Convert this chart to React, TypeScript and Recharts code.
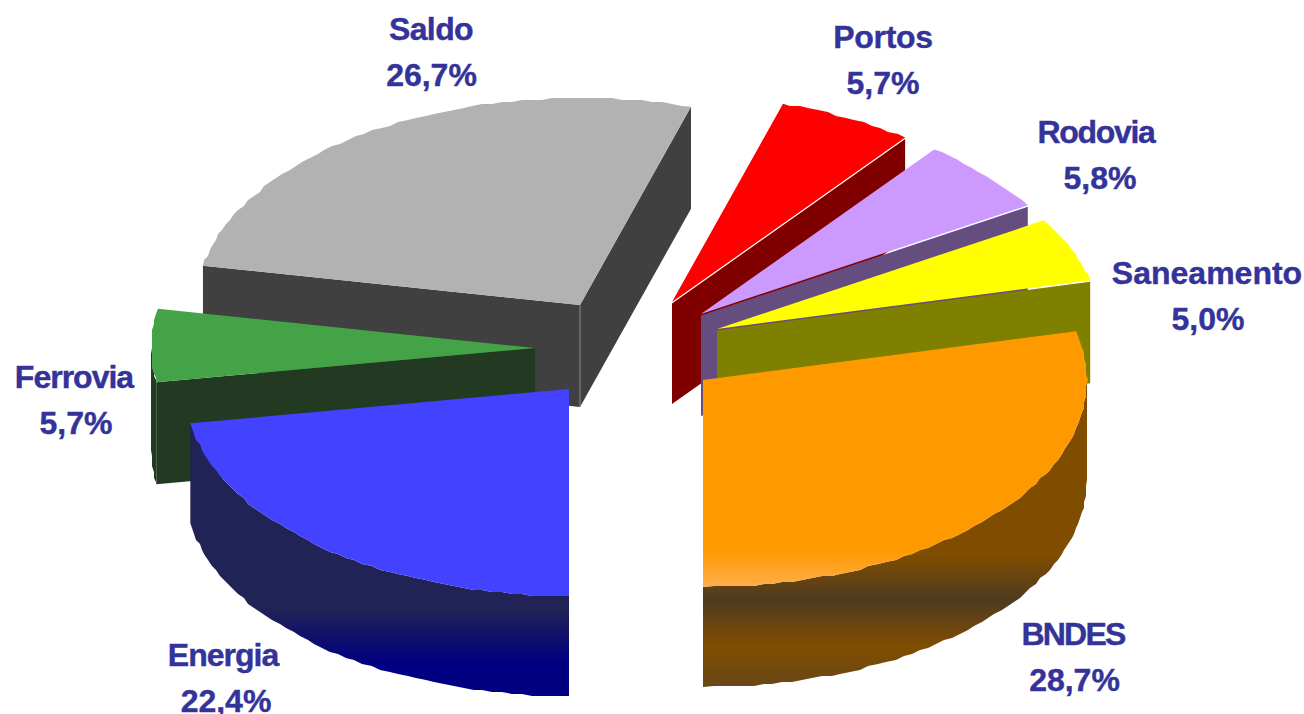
import React from "react";
import { PieChart, Pie } from "recharts";

// back half and front half are drawn as two pies so the overlaps stack like the picture
const leftNames = ["Saldo", "Ferrovia", "Energia"];
const leftValues = [26.7, 5.7, 22.4];
const rightNames = ["Portos", "Rodovia", "Saneamento", "BNDES"];
const rightValues = [5.7, 5.8, 5.0, 28.7];

const leftData = leftNames.map((name, i) => ({ name, value: leftValues[i] }));
const rightData = rightNames.map((name, i) => ({ name, value: rightValues[i] }));

const RADIUS = 384;
const SQUASH = 0.539;

type SliceLook = {
  tip: [number, number];
  depth: number;
  top: string;
  wall: string;
  gap: number;
  label: [number, number];
  spacing: number;
  pctShift: number;
};

const looks: Record<string, SliceLook> = {
  Saldo: { tip: [580, 305], depth: 102, top: "#b2b2b2", wall: "#404040", gap: 0, label: [431, 40], spacing: -0.6, pctShift: 0.5 },
  Ferrovia: { tip: [535, 348], depth: 102, top: "#43a346", wall: "#213a21", gap: 0, label: [74, 388], spacing: -1, pctShift: 2 },
  Energia: { tip: [569, 389], depth: 100, top: "#4242ff", wall: "url(#energiaWall)", gap: 0, label: [223, 666], spacing: -1, pctShift: 3 },
  Portos: { tip: [672, 302], depth: 102, top: "#ff0000", wall: "#800000", gap: 1.5, label: [883, 48], spacing: -0.3, pctShift: 0 },
  Rodovia: { tip: [701, 314], depth: 102, top: "#cc99ff", wall: "#664d80", gap: 1.5, label: [1096, 143], spacing: -1.3, pctShift: 4 },
  Saneamento: { tip: [717, 329], depth: 103, top: "#ffff00", wall: "#808000", gap: 1.5, label: [1207, 284], spacing: 0, pctShift: 1 },
  BNDES: { tip: [703, 380], depth: 100, top: "url(#bndesTop)", wall: "url(#bndesWall)", gap: 0, label: [1073, 645], spacing: -1.8, pctShift: 1.5 },
};

const rad = (a: number) => (a * Math.PI) / 180;

function edgePoint(tip: [number, number], a: number): [number, number] {
  return [tip[0] + RADIUS * Math.cos(rad(a)), tip[1] - RADIUS * SQUASH * Math.sin(rad(a))];
}

// the original rim is coarse, so snap it to a rough grid instead of a smooth curve
function rim(tip: [number, number], from: number, to: number): [number, number][] {
  const pts: [number, number][] = [edgePoint(tip, from)];
  for (let a = from + 1.5; a < to - 0.5; a += 1.5) {
    const [x, y] = edgePoint(tip, a);
    pts.push([Math.round(x / 2) * 2, Math.round(y / 2) * 2]);
  }
  pts.push(edgePoint(tip, to));
  return pts;
}

const toPoints = (pts: [number, number][]) => pts.map((p) => `${p[0]},${p[1]}`).join(" ");

function SliceShape(props: any) {
  const look = looks[props.name];
  const a0 = Math.min(props.startAngle, props.endAngle);
  const a1 = Math.max(props.startAngle, props.endAngle);
  const { tip, depth, gap } = look;

  const face = (a: number) => {
    const p = edgePoint(tip, a);
    return toPoints([
      [tip[0], tip[1] + gap],
      [p[0], p[1] + gap],
      [p[0], p[1] + depth],
      [tip[0], tip[1] + depth],
    ]);
  };

  // outer wall only exists on the part of the rim that faces the viewer
  const wallFrom = Math.max(a0, a0 < 0 ? -90 : 180);
  const wallTo = Math.min(a1, a0 < 0 ? 0 : 360);
  const showRim = wallTo > wallFrom;
  const rimTop = showRim ? rim(tip, wallFrom, wallTo) : [];
  const rimBottom = rimTop.map((p) => [p[0], p[1] + depth] as [number, number]).reverse();

  return (
    <g>
      {Math.cos(rad(a0)) > 0.001 && <polygon points={face(a0)} fill={look.wall} />}
      {Math.cos(rad(a1)) < -0.001 && <polygon points={face(a1)} fill={look.wall} />}
      {showRim && <polygon points={toPoints([...rimTop, ...rimBottom])} fill={look.wall} />}
      {props.name === "Saldo" && (
        <line x1={tip[0]} y1={tip[1]} x2={tip[0]} y2={tip[1] + depth} stroke="#8a8a8a" strokeWidth={1} />
      )}
      <polygon points={toPoints([tip, ...rim(tip, a0, a1)])} fill={look.top} />
    </g>
  );
}

function SliceLabel(props: any) {
  const look = looks[props.name];
  const pct = `${Number(props.value).toFixed(1).replace(".", ",")}%`;
  return (
    <text
      textAnchor="middle"
      fontFamily="'Liberation Sans', Arial, sans-serif"
      fontWeight="bold"
      fontSize={32}
      fill="#333399"
      stroke="#333399"
      strokeWidth={0.4}
    >
      <tspan x={look.label[0]} y={look.label[1]} letterSpacing={look.spacing}>{props.name}</tspan>
      <tspan x={look.label[0] + look.pctShift} y={look.label[1] + 46}>{pct}</tspan>
    </text>
  );
}

export default function App() {
  return (
    <div style={{ position: "absolute", left: 0, top: 0, width: 1304, height: 714, background: "#fff", overflow: "hidden" }}>
      <PieChart width={1304} height={714} margin={{ top: 0, right: 0, bottom: 0, left: 0 }}>
        <defs>
          <linearGradient id="energiaWall" gradientUnits="userSpaceOnUse" x1={0} y1={610} x2={0} y2={662}>
            <stop offset="0" stopColor="#212255" />
            <stop offset="1" stopColor="#000080" />
          </linearGradient>
          <linearGradient id="bndesTop" gradientUnits="userSpaceOnUse" x1={0} y1={550} x2={0} y2={587}>
            <stop offset="0" stopColor="#ff9900" />
            <stop offset="1" stopColor="#ffae4a" />
          </linearGradient>
          <linearGradient id="bndesWall" gradientUnits="userSpaceOnUse" x1={0} y1={555} x2={0} y2={690}>
            <stop offset="0" stopColor="#804d00" />
            <stop offset="0.33" stopColor="#4f3b20" />
            <stop offset="0.68" stopColor="#804d00" />
            <stop offset="1" stopColor="#664619" />
          </linearGradient>
        </defs>
        <Pie
          data={leftData}
          dataKey="value"
          nameKey="name"
          cx={652}
          cy={357}
          outerRadius={RADIUS}
          startAngle={73.2}
          endAngle={270}
          stroke="none"
          shape={SliceShape}
          label={SliceLabel}
          labelLine={false}
          isAnimationActive={false}
        />
        <Pie
          data={rightData}
          dataKey="value"
          nameKey="name"
          cx={652}
          cy={357}
          outerRadius={RADIUS}
          startAngle={73.2}
          endAngle={-90}
          stroke="none"
          shape={SliceShape}
          label={SliceLabel}
          labelLine={false}
          isAnimationActive={false}
        />
      </PieChart>
    </div>
  );
}
